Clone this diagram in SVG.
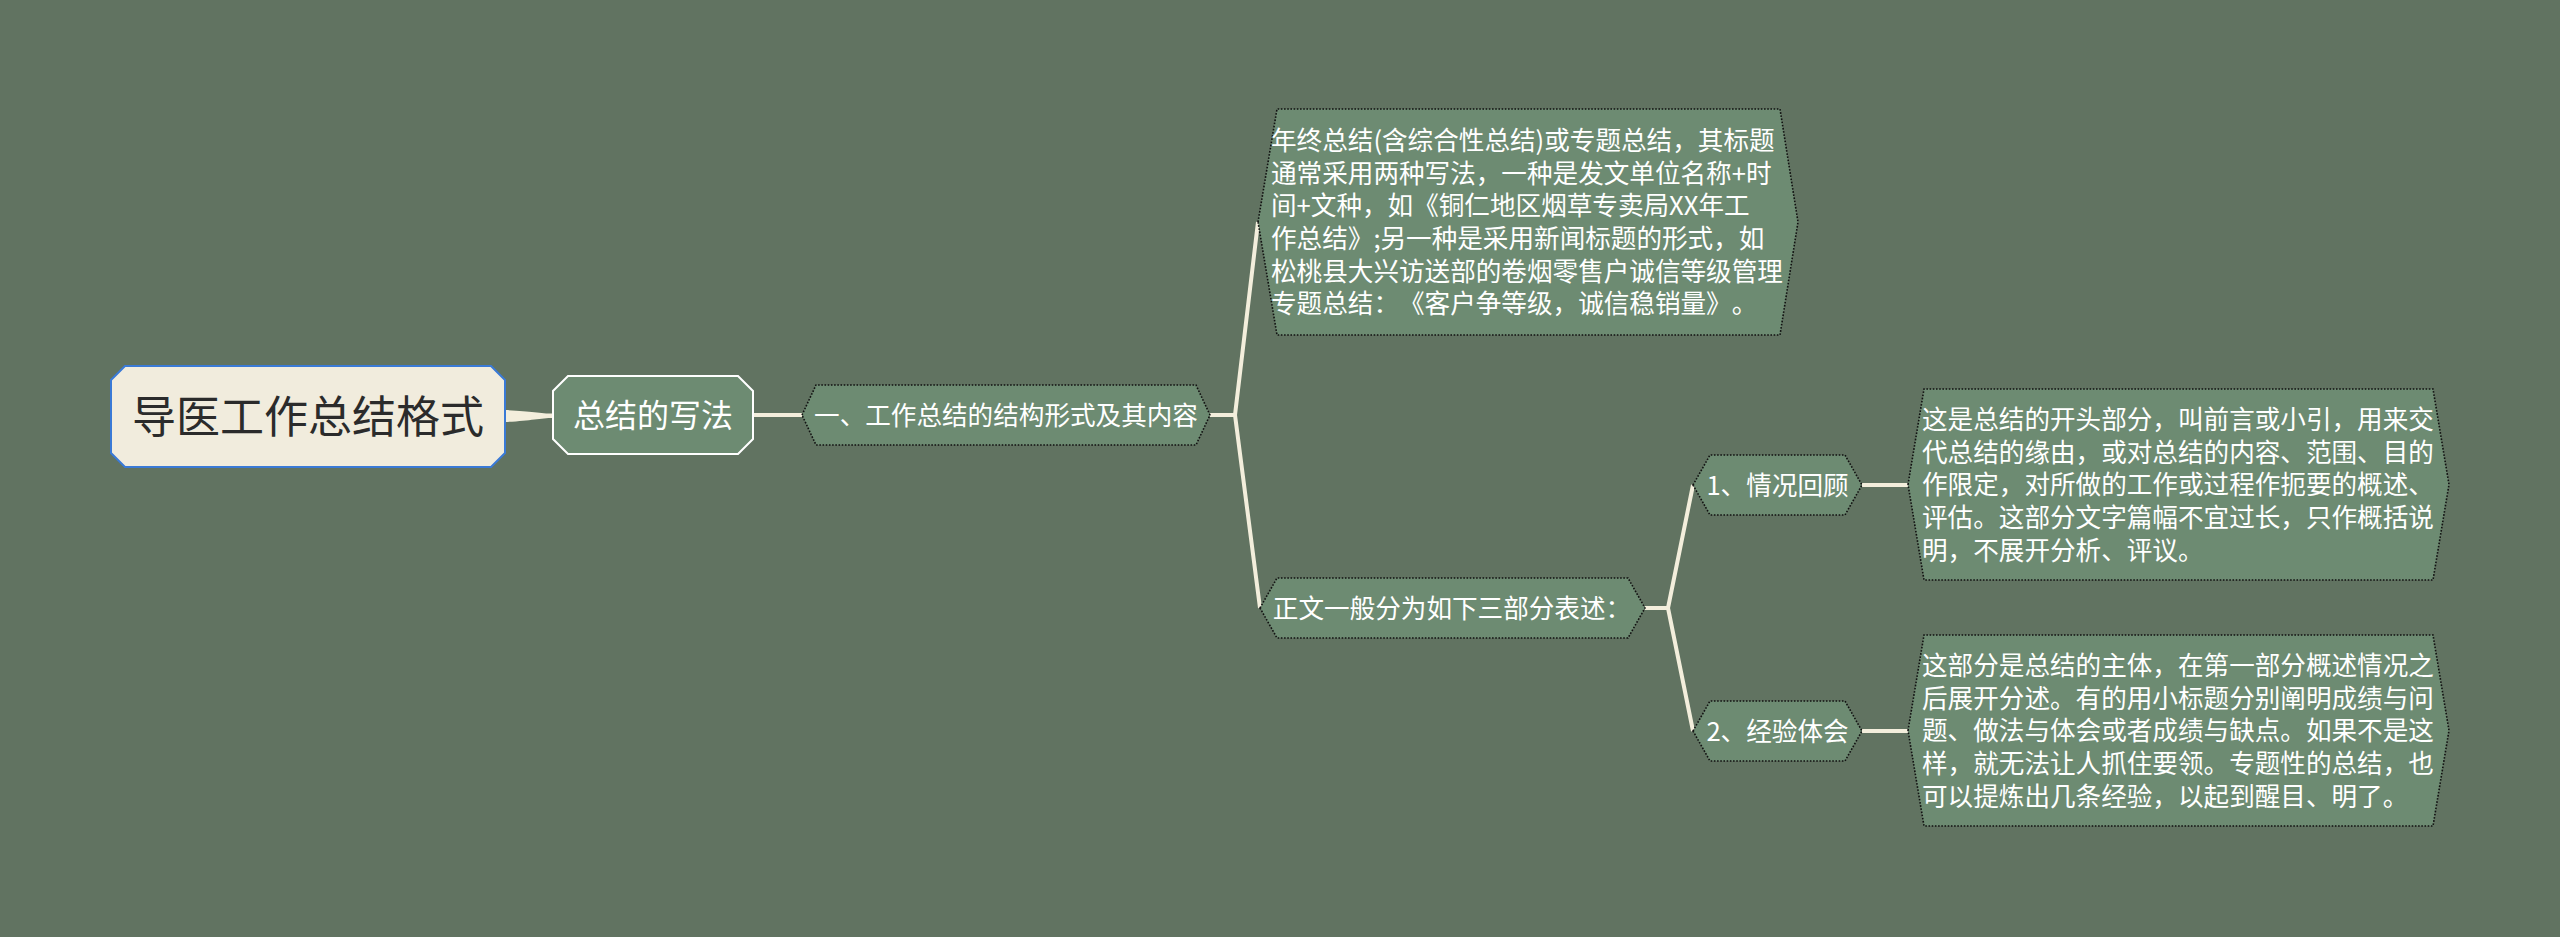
<svg xmlns="http://www.w3.org/2000/svg" width="2560" height="937" viewBox="0 0 2560 937">
<style>
.bg{fill:#617361}
.nd{fill:#6d8b72;stroke:#111;stroke-width:1.6;stroke-dasharray:1.6 1.6}
.t{font-family:"Noto Sans CJK SC","Microsoft YaHei",sans-serif;fill:#ffffff;font-size:25.6px;text-spacing-trim:space-all;font-feature-settings:"halt" 0,"palt" 0}
.c{text-anchor:middle}
.ln{fill:none;stroke:#f3eedc;stroke-width:4;stroke-linejoin:round;stroke-linecap:butt}
</style>
<rect class="bg" x="0" y="0" width="2560" height="937"/>
<g id="connectors">
<path d="M505,410 C530,411 540,413.5 553,413.5 L553,418 C540,418 530,421 505,422 Z" fill="#f3eedc"/>
<path class="ln" d="M753,415 H802"/>
<path class="ln" d="M1210,415 H1235 L1258,222 M1235,415 L1260,608"/>
<path class="ln" d="M1645,608 H1668 L1693,485 M1668,608 L1693,731"/>
<path class="ln" d="M1862,485 H1908"/>
<path class="ln" d="M1862,731 H1908"/>
</g>
<g id="root">
<polygon points="125,366 491,366 505,380 505,453 491,467 125,467 111,453 111,380" fill="#f1ecdd" stroke="#3a7ad6" stroke-width="2"/>
<text class="t c" x="308" y="433" style="font-size:44px;fill:#2b2b2b">导医工作总结格式</text>
</g>
<g id="n-xiefa">
<polygon points="568,376 738,376 753,391 753,439 738,454 568,454 553,439 553,391" fill="#6d8b72" stroke="#ffffff" stroke-width="2"/>
<text class="t c" x="653" y="427" style="font-size:32px">总结的写法</text>
</g>
<g id="n-jiegou">
<polygon class="nd" points="802,415 816,385 1196,385 1210,415 1196,445 816,445"/>
<text class="t c" x="1006" y="424.7">一、工作总结的结构形式及其内容</text>
</g>
<g id="n-biaoti">
<polygon class="nd" points="1258,222 1277,109 1780,109 1798,222 1780,335 1277,335"/>
<text class="t" x="1271" y="150.1">年终总结(含综合性总结)或专题总结，其标题</text>
<text class="t" x="1271" y="182.8">通常采用两种写法，一种是发文单位名称+时</text>
<text class="t" x="1271" y="215.4">间+文种，如《铜仁地区烟草专卖局XX年工</text>
<text class="t" x="1271" y="248.1">作总结》;另一种是采用新闻标题的形式，如</text>
<text class="t" x="1271" y="280.7">松桃县大兴访送部的卷烟零售户诚信等级管理</text>
<text class="t" x="1271" y="313.4">专题总结：《客户争等级，诚信稳销量》。</text>
</g>
<g id="n-zhengwen">
<polygon class="nd" points="1260,608 1277,578 1628,578 1645,608 1628,638 1277,638"/>
<text class="t c" x="1452" y="617.7">正文一般分为如下三部分表述：</text>
</g>
<g id="n-qingkuang">
<polygon class="nd" points="1693,485 1710,455 1845,455 1862,485 1845,515 1710,515"/>
<text class="t c" x="1777.5" y="494.7">1、情况回顾</text>
</g>
<g id="n-qingkuang-text">
<polygon class="nd" points="1908,484.5 1924,389 2433,389 2449,484.5 2433,580 1924,580"/>
<text class="t" x="1922" y="428.9">这是总结的开头部分，叫前言或小引，用来交</text>
<text class="t" x="1922" y="461.5">代总结的缘由，或对总结的内容、范围、目的</text>
<text class="t" x="1922" y="494.2">作限定，对所做的工作或过程作扼要的概述、</text>
<text class="t" x="1922" y="526.9">评估。这部分文字篇幅不宜过长，只作概括说</text>
<text class="t" x="1922" y="559.5">明，不展开分析、评议。</text>
</g>
<g id="n-jingyan">
<polygon class="nd" points="1693,731 1710,701 1845,701 1862,731 1845,761 1710,761"/>
<text class="t c" x="1777.5" y="740.7">2、经验体会</text>
</g>
<g id="n-jingyan-text">
<polygon class="nd" points="1908,730.5 1924,635 2433,635 2449,730.5 2433,826 1924,826"/>
<text class="t" x="1922" y="674.9">这部分是总结的主体，在第一部分概述情况之</text>
<text class="t" x="1922" y="707.5">后展开分述。有的用小标题分别阐明成绩与问</text>
<text class="t" x="1922" y="740.2">题、做法与体会或者成绩与缺点。如果不是这</text>
<text class="t" x="1922" y="772.9">样，就无法让人抓住要领。专题性的总结，也</text>
<text class="t" x="1922" y="805.5">可以提炼出几条经验，以起到醒目、明了。</text>
</g>
</svg>
